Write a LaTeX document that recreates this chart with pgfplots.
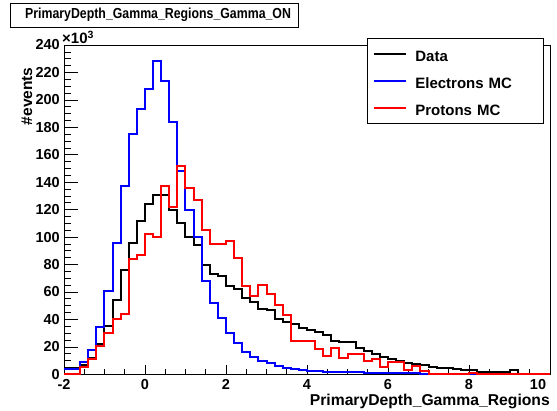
\documentclass[border=0pt]{standalone}
\usepackage{fontspec}
\setmainfont{Liberation Sans}
\newfontfamily\titlefont[FakeStretch=0.85]{Liberation Sans}
\usepackage{pgfplots}
\pgfplotsset{compat=1.18}
\usepackage{pgfplotstable}

% Bin contents (in units of 10^3 events), bins of width 0.2 from -2 to 10.
% Column x is the lower bin edge; the last row closes the final bin.
\pgfplotstableread{
x     y
-2.0  3.5
-1.8  4.5
-1.6  7
-1.4  12
-1.2  22
-1.0  35
-0.8  54
-0.6  76
-0.4  96
-0.2  112
0.0   124
0.2   131
0.4   131
0.6   120
0.8   110
1.0   100
1.2   94
1.4   80
1.6   73
1.8   72
2.0   64
2.2   62
2.4   55.6
2.6   52.7
2.8   47.8
3.0   46.6
3.2   40
3.4   38
3.6   37
3.8   34
4.0   32.5
4.2   30.5
4.4   28.5
4.6   24
4.8   23.2
5.0   23.5
5.2   19.3
5.4   16.8
5.6   14.5
5.8   12.8
6.0   11.2
6.2   9.9
6.4   8.4
6.6   7.5
6.8   6.5
7.0   5.5
7.2   4.8
7.4   4.3
7.6   3.6
7.8   3.1
8.0   3.0
8.2   2.0
8.4   1.8
8.6   1.6
8.8   1.5
9.0   3.4
9.2   0.1
9.4   0.1
9.6   0.1
9.8   0.1
10.0  0.1
}\datahist

\pgfplotstableread{
x     y
-2.0  3.8
-1.8  4
-1.6  9
-1.4  18
-1.2  34.5
-1.0  60.5
-0.8  95.7
-0.6  137
-0.4  175.5
-0.2  193.6
0.0   208
0.2   228
0.4   214
0.6   184
0.8   148
1.0   120
1.2   100
1.4   68
1.6   52
1.8   41
2.0   30
2.2   22.5
2.4   16.4
2.6   12.8
2.8   9.9
3.0   8
3.2   6
3.4   4.8
3.6   3.8
3.8   3.1
4.0   2.7
4.2   2.4
4.4   2.0
4.6   1.7
4.8   1.6
5.0   1.8
5.2   1.4
5.4   1.2
5.6   1.1
5.8   1.0
6.0   0.9
6.2   0.8
6.4   0.7
6.6   0.6
6.8   0.3
7.0   0.1
7.2   0.1
7.4   0.1
7.6   0.1
7.8   0.1
8.0   0.5
8.2   0.1
8.4   0.1
8.6   0.1
8.8   0.1
9.0   0.1
9.2   0.1
9.4   0.1
9.6   0.1
9.8   0.1
10.0  0.1
}\electronhist

\pgfplotstableread{
x     y
-2.0  0.5
-1.8  0.5
-1.6  5.5
-1.4  11
-1.2  20.5
-1.0  30
-0.8  40
-0.6  44
-0.4  84
-0.2  87
0.0   102
0.2   100
0.4   137
0.6   122
0.8   152
1.0   136
1.2   127
1.4   105
1.6   95
1.8   95
2.0   97
2.2   85
2.4   64.3
2.6   57
2.8   65
3.0   58.2
3.2   50.8
3.4   43
3.6   24.4
3.8   24.4
4.0   24.4
4.2   18.5
4.4   13.5
4.6   19.5
4.8   12
5.0   14.7
5.2   14.7
5.4   10
5.6   11
5.8   5.5
6.0   9.2
6.2   9.2
6.4   3.1
6.6   6
6.8   2.7
7.0   0.3
7.2   0.3
7.4   0.3
7.6   0.3
7.8   0.3
8.0   1.0
8.2   0.3
8.4   0.3
8.6   0.3
8.8   0.3
9.0   0.3
9.2   0.3
9.4   0.3
9.6   0.3
9.8   0.3
10.0  0.3
}\protonhist

\begin{document}
\begin{tikzpicture}[font=\bfseries]
\path[use as bounding box] (-64pt,-35.7pt) rectangle (493pt,374.3pt);
\begin{axis}[
  at={(0pt,0pt)}, anchor=south west,
  scale only axis, width=486pt, height=329.3pt,
  xmin=-2, xmax=10, ymin=0, ymax=240,
  xtick={-2,0,...,10}, ytick={0,20,...,240},
  xticklabels={-2,0,2,4,6,8,{\makebox[0pt][c]{\kern-24pt 10}}},
  minor x tick num=3, minor y tick num=3,
  scaled y ticks=false,
  tick align=inside,
  xtick pos=bottom, ytick pos=left,
  axis line style={line width=0.8pt},
  xtick style={black, line width=0.7pt, /pgfplots/major tick length=9pt, /pgfplots/minor tick length=5pt},
  ytick style={black, line width=0.7pt, /pgfplots/major tick length=14pt, /pgfplots/minor tick length=7pt},
  /pgf/number format/assume math mode=true,
  ticklabel style={font=\fontsize{14.5}{16}\selectfont\bfseries},
  yticklabel style={anchor=east, inner sep=0pt, xshift=-4pt},
  xticklabel style={anchor=north, inner sep=0pt, yshift=-4.7pt},
  legend cell align=left,
  legend style={
    at={(rel axis cs:0.6235,1.0213)}, anchor=north west,
    draw=black, line width=0.7pt, fill=white,
    font=\fontsize{15}{17}\selectfont\bfseries,
    inner xsep=6pt, inner ysep=8pt, row sep=11.5pt,
    nodes={inner sep=0pt, text width=122pt, text height=15pt, text depth=0.5pt},
    /tikz/column 1/.append style={column sep=8pt},
  },
  legend image code/.code={\draw[#1, line width=2pt] (0pt,0pt) -- (32pt,0pt);},
]
\addplot[const plot mark left, black, line width=2pt] table[x=x,y=y] {\datahist};
\addlegendentry{Data}
\addplot[const plot mark left, blue, line width=2pt] table[x=x,y=y] {\electronhist};
\addlegendentry{Electrons MC}
\addplot[const plot mark left, red, line width=2pt] table[x=x,y=y] {\protonhist};
\addlegendentry{Protons MC}
\end{axis}
% histogram title box
\draw[line width=0.7pt, fill=white] (-54pt,347.3pt) rectangle (234pt,371.3pt);
\node[anchor=west, inner sep=0pt, font=\fontsize{14.5}{16}\titlefont\bfseries] at (-39pt,359.3pt) {PrimaryDepth\_Gamma\_Regions\_Gamma\_ON};
% exponent of the y axis
\node[anchor=base west, inner sep=0pt, font=\fontsize{15}{17}\selectfont\bfseries] at (-2pt,331pt) {×10\textsuperscript{3}};
% axis titles
\node[rotate=90, anchor=east, inner sep=0pt, font=\fontsize{15.5}{17}\selectfont\bfseries] at (-37pt,307pt) {\#events};
\node[anchor=base east, inner sep=0pt, font=\fontsize{15.7}{17}\selectfont\bfseries] at (486pt,-31.5pt) {PrimaryDepth\_Gamma\_Regions};
\end{tikzpicture}
\end{document}
